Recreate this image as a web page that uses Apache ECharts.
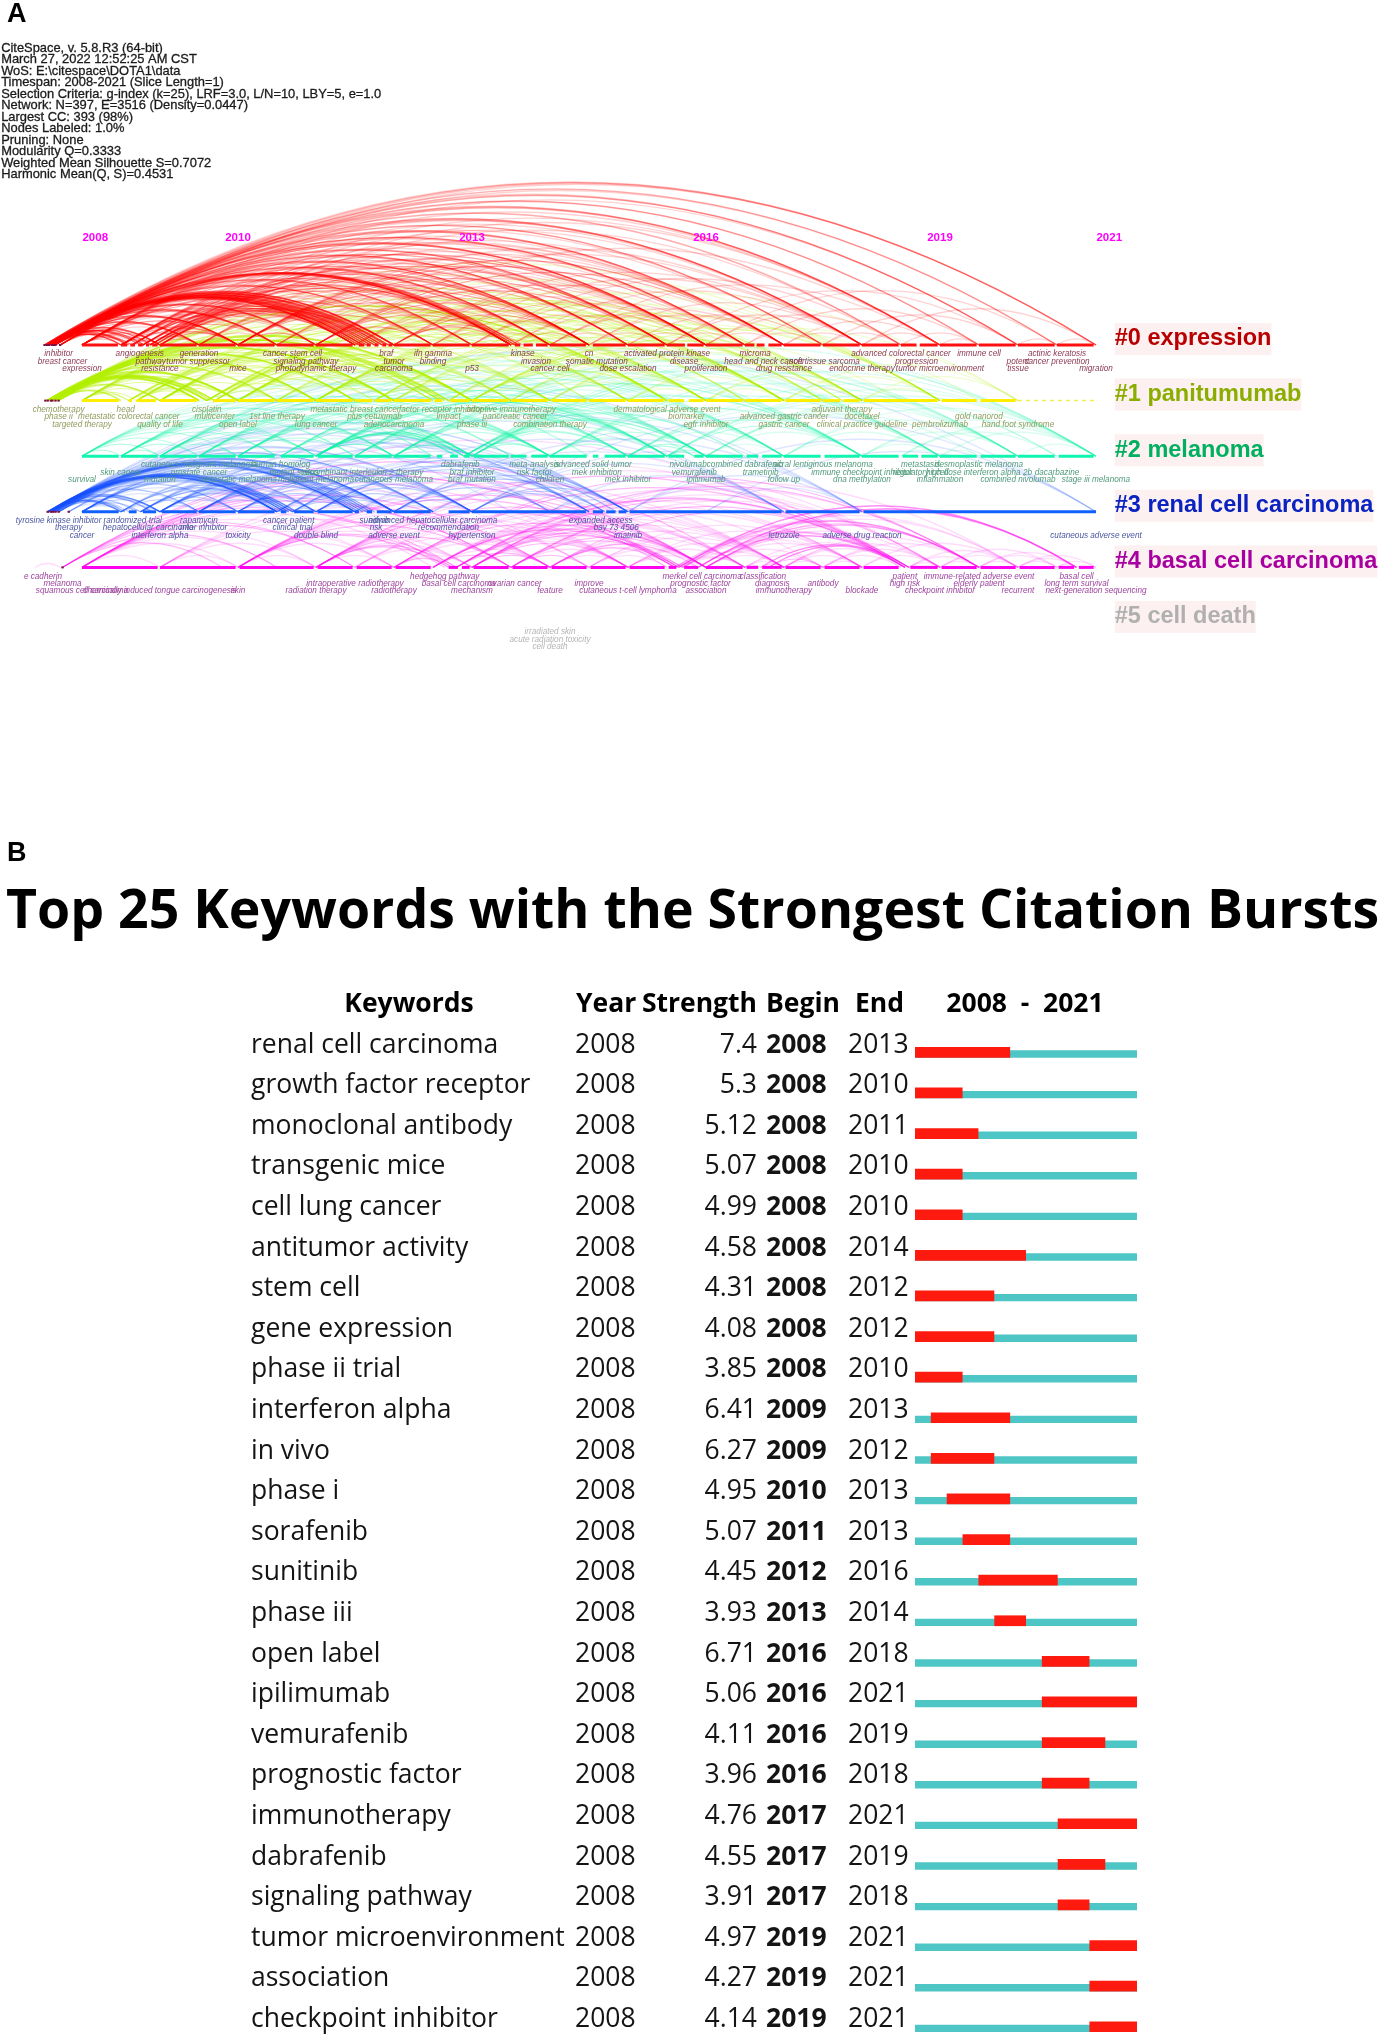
<!DOCTYPE html>
<html><head><meta charset="utf-8">
<style>html,body{margin:0;padding:0;background:#fff}#c{width:1380px;height:2034px;filter:blur(.4px)}</style>
<script src="https://cdn.jsdelivr.net/npm/echarts@6/dist/echarts.min.js"></script>
</head><body><div id="c"></div>
<script>
/* ---------- Panel A data ---------- */
const infoLines = [
 'CiteSpace, v. 5.8.R3 (64-bit)','March 27, 2022 12:52:25 AM CST','WoS: E:\\citespace\\DOTA1\\data',
 'Timespan: 2008-2021 (Slice Length=1)','Selection Criteria: g-index (k=25), LRF=3.0, L/N=10, LBY=5, e=1.0',
 'Network: N=397, E=3516 (Density=0.0447)','Largest CC: 393 (98%)','Nodes Labeled: 1.0%','Pruning: None',
 'Modularity Q=0.3333','Weighted Mean Silhouette S=0.7072','Harmonic Mean(Q, S)=0.4531'];
const yearLabels = [['2008',2008.17],['2010',2010],['2013',2013],['2016',2016],['2019',2019],['2021',2021.17]];
const clusterNames = ['#0 expression','#1 panitumumab','#2 melanoma','#3 renal cell carcinoma','#4 basal cell carcinoma','#5 cell death'];

/* keyword, year, stagger tier */
const kw0 = [['inhibitor',2007.7,0],['angiogenesis',2008.74,0],['generation',2009.5,0],['cancer stem cell',2010.7,0],['braf',2011.9,0],['ifn gamma',2012.5,0],['kinase',2013.65,0],['cn',2014.5,0],['activated protein kinase',2015.5,0],['microma',2016.63,0],['advanced colorectal cancer',2018.5,0],['immune cell',2019.5,0],['actinic keratosis',2020.5,0],
 ['breast cancer',2007.75,1],['pathway',2008.88,1],['tumor suppressor',2009.49,1],['signaling pathway',2010.87,1],['tumor',2012,1],['binding',2012.5,1],['invasion',2013.82,1],['somatic mutation',2014.6,1],['disease',2015.72,1],['head and neck cancer',2016.75,1],['soft tissue sarcoma',2017.52,1],['progression',2018.7,1],['potent',2020,1],['cancer prevention',2020.5,1],
 ['expression',2008,2],['resistance',2009,2],['mice',2010,2],['photodynamic therapy',2011,2],['carcinoma',2012,2],['p53',2013,2],['cancer cell',2014,2],['dose escalation',2015,2],['proliferation',2016,2],['drug resistance',2017,2],['endocrine therapy',2018,2],['tumor microenvironment',2019,2],['tissue',2020,2],['migration',2021,2]];
const kw1 = [['chemotherapy',2007.7,0],['head',2008.56,0],['cisplatin',2009.6,0],['metastatic breast cancer',2011.5,0],['factor receptor inhibitor',2012.6,0],['adoptive immunotherapy',2013.5,0],['dermatological adverse event',2015.5,0],['adjuvant therapy',2017.74,0],
 ['phase ii',2007.7,1],['metastatic colorectal cancer',2008.6,1],['multicenter',2009.7,1],['1st line therapy',2010.5,1],['plus cetuximab',2011.75,1],['impact',2012.7,1],['pancreatic cancer',2013.55,1],['biomarker',2015.75,1],['advanced gastric cancer',2017,1],['docetaxel',2018,1],['gold nanorod',2019.5,1],
 ['targeted therapy',2008,2],['quality of life',2009,2],['open label',2010,2],['lung cancer',2011,2],['adenocarcinoma',2012,2],['phase iii',2013,2],['combination therapy',2014,2],['egfr inhibitor',2016,2],['gastric cancer',2017,2],['clinical practice guideline',2018,2],['pembrolizumab',2019,2],['hand foot syndrome',2020,2]];
const kw2 = [['cutaneous malignant melanoma',2009.5,0],['human homolog',2010.55,0],['dabrafenib',2012.85,0],['meta-analysis',2013.8,0],['advanced solid tumor',2014.55,0],['nivolumab',2015.77,0],['combined dabrafenib',2016.5,0],['acral lentiginous melanoma',2017.5,0],['metastasis',2018.75,0],['desmoplastic melanoma',2019.5,0],
 ['skin cancer',2008.5,1],['prostate cancer',2009.5,1],['mutant status',2010.72,1],['recombinant interleukin 2 therapy',2011.6,1],['braf inhibitor',2013,1],['risk factor',2013.8,1],['mek inhibition',2014.6,1],['vemurafenib',2015.85,1],['trametinib',2016.7,1],['immune checkpoint inhibitor',2018,1],['regulatory t cell',2018.75,1],['high dose interferon alpha 2b',2019.5,1],['dacarbazine',2020.5,1],
 ['survival',2008,2],['mutation',2009,2],['metastatic melanoma',2010,2],['malignant melanoma',2011,2],['cutaneous melanoma',2012,2],['braf mutation',2013,2],['children',2014,2],['mek inhibitor',2015,2],['ipilimumab',2016,2],['follow up',2017,2],['dna methylation',2018,2],['inflammation',2019,2],['combined nivolumab',2020,2],['stage iii melanoma',2021,2]];
const kw3 = [['tyrosine kinase inhibitor',2007.7,0],['randomized trial',2008.65,0],['rapamycin',2009.5,0],['cancer patient',2010.65,0],['sunitinib',2011.75,0],['advanced hepatocellular carcinoma',2012.5,0],['expanded access',2014.65,0],
 ['therapy',2007.83,1],['hepatocellular carcinoma',2008.85,1],['mtor inhibitor',2009.56,1],['clinical trial',2010.7,1],['risk',2011.77,1],['recommendation',2012.7,1],['bay 73 4506',2014.85,1],
 ['cancer',2008,2],['interferon alpha',2009,2],['toxicity',2010,2],['double blind',2011,2],['adverse event',2012,2],['hypertension',2013,2],['imatinib',2015,2],['letrozole',2017,2],['adverse drug reaction',2018,2],['cutaneous adverse event',2021,2]];
const kw4 = [['e cadherin',2007.5,0],['hedgehog pathway',2012.65,0],['merkel cell carcinoma',2015.95,0],['classification',2016.73,0],['patient',2018.55,0],['immune-related adverse event',2019.5,0],['basal cell',2020.75,0],
 ['melanoma',2007.75,1],['intraoperative radiotherapy',2011.5,1],['basal cell carcinoma',2012.83,1],['ovarian cancer',2013.55,1],['improve',2014.5,1],['prognostic factor',2015.93,1],['diagnosis',2016.85,1],['antibody',2017.5,1],['high risk',2018.55,1],['elderly patient',2019.5,1],['long term survival',2020.75,1],
 ['squamous cell carcinoma',2008,2],['chemically induced tongue carcinogenesis',2009,2],['skin',2010,2],['radiation therapy',2011,2],['radiotherapy',2012,2],['mechanism',2013,2],['feature',2014,2],['cutaneous t-cell lymphoma',2015,2],['association',2016,2],['immunotherapy',2017,2],['blockade',2018,2],['checkpoint inhibitor',2019,2],['recurrent',2020,2],['next-generation sequencing',2021,2]];
const kw5 = [['irradiated skin',2014,0],['acute radiation toxicity',2014,1],['cell death',2014,2]];

/* timeline spans per row */
const spine0 = [[2008,2008.46],[2008.5,2008.58],[2008.62,2008.68],[2008.72,2008.78],[2008.82,2008.86],[2008.9,2008.97],[2009,2009.47],[2009.5,2009.97],[2010,2010.47],[2010.5,2010.97],[2011,2011.47],[2011.55,2011.62],[2011.65,2011.7],[2011.75,2011.8],[2011.85,2011.9],[2011.93,2011.98],[2012,2012.47],[2012.5,2012.97],[2013,2013.47],[2013.55,2013.62],[2013.66,2013.78],[2013.82,2013.97],[2014,2014.46],[2014.55,2014.97],[2015,2015.47],[2015.5,2015.73],[2015.76,2015.97],[2016,2016.47],[2016.5,2016.62],[2016.65,2016.75],[2016.8,2016.97],[2017,2017.47],[2017.5,2017.97],[2018,2018.47],[2018.5,2018.7],[2018.74,2018.97],[2019,2019.47],[2019.5,2019.97],[2020,2020.47],[2020.5,2020.97]];
const spine1 = [[2008,2008.47],[2008.6,2008.64],[2008.7,2008.95],[2009,2009.47],[2009.68,2009.97],[2010,2010.47],[2010.5,2010.97],[2011,2011.47],[2011.5,2011.72],[2011.76,2011.97],[2012,2012.47],[2012.52,2012.62],[2012.72,2012.97],[2013,2013.47],[2013.5,2013.97],[2014.02,2014.47],[2014.5,2014.97],[2015,2015.47],[2015.52,2015.72],[2015.78,2015.97],[2016,2016.47],[2016.5,2016.97],[2017.02,2017.47],[2017.5,2017.72],[2017.76,2017.97],[2018.02,2018.97],[2019.02,2019.47],[2019.52,2019.97]];
const spine2 = [[2008,2008.47],[2008.5,2008.97],[2009,2009.47],[2009.5,2009.97],[2010,2010.47],[2010.55,2010.97],[2011.02,2011.47],[2011.5,2011.97],[2012,2012.47],[2012.55,2012.62],[2012.72,2012.82],[2012.9,2012.97],[2013.02,2013.47],[2013.5,2013.7],[2013.76,2013.97],[2014,2014.47],[2014.55,2014.62],[2014.7,2014.97],[2015,2015.47],[2015.52,2015.72],[2015.85,2015.97],[2016,2016.47],[2016.52,2016.67],[2016.72,2016.97],[2017,2017.47],[2017.52,2017.97],[2018,2018.47],[2018.52,2018.72],[2018.76,2018.97],[2019,2019.47],[2019.52,2019.97],[2020,2020.47],[2020.52,2020.97]];
const spine3 = [[2008,2008.47],[2008.6,2008.7],[2008.78,2008.95],[2009.02,2009.47],[2009.5,2009.97],[2010,2010.47],[2010.55,2010.62],[2010.72,2010.97],[2011.02,2011.47],[2011.5,2011.55],[2011.65,2011.72],[2011.78,2011.97],[2012,2012.47],[2012.7,2012.97],[2013,2014.46],[2014.55,2014.68],[2014.72,2014.84],[2014.88,2014.98],[2015.02,2016.97],[2017.02,2017.97],[2018.02,2021]];
const spine4 = [[2008,2008.97],[2009,2009.97],[2010.02,2010.97],[2011.02,2011.47],[2011.52,2011.97],[2012.02,2012.47],[2012.7,2012.82],[2012.87,2012.97],[2013.02,2013.47],[2013.52,2013.97],[2014.02,2014.47],[2014.52,2014.97],[2015.02,2015.47],[2015.52,2015.62],[2015.72,2015.9],[2016,2016.47],[2016.52,2016.67],[2016.72,2016.97],[2017.02,2017.47],[2017.52,2017.97],[2018.02,2018.47],[2018.62,2018.97],[2019.02,2019.47],[2019.52,2019.97],[2020.02,2020.47],[2020.52,2020.72],[2020.78,2020.97]];
const heads = [[2007.52,2007.55,2007.58,2007.62,2007.64,2007.66,2007.72],[2007.53,2007.56,2007.6,2007.62,2007.66,2007.7],[],[2007.56,2007.6,2007.63,2007.66,2007.7,2007.83],[2007.75]];
const dashedTail = [2020,2021];

/* edges: [source year, [target years], strength] */
const redEdges = [
 [2007.55,[2008.6,2008.75,2009,2010,2011.5,2011.6,2011.7,2011.85,2012,2013.5],3],[2007.55,[2014.5,2016],2],[2007.55,[2017,2018,2019,2021],1],
 [2007.6,[2008.5,2008.8,2009.5,2010.5,2011.55,2011.65,2011.75,2011.9,2013.55],3],[2007.6,[2012.5,2013,2014,2015,2016.5],2],[2007.6,[2017.5,2018.5,2019.5,2020.5],1],
 [2007.65,[2008.58,2008.9,2010,2011,2011.5,2011.6,2011.8,2013.5,2013.6],3],[2007.65,[2012,2014.5,2015.5,2016],2],[2007.65,[2017,2018,2019,2020],1],
 [2007.72,[2008.64,2009,2009.5,2010.5,2011.5,2011.7,2011.93],2],[2007.72,[2013,2013.5,2014,2015,2016.5,2018,2020.5,2021],1],
 [2007.58,[2008.5,2008.7,2009,2009.5,2010,2010.5,2011,2011.5,2012,2012.5,2013,2013.5,2014,2014.5,2015,2015.5,2016,2016.5,2017,2017.5,2018,2018.5,2019,2019.5,2020,2020.5,2021],1],
 [2007.63,[2008.5,2009,2010,2011,2011.6,2012,2012.5,2013,2014,2014.5,2015,2015.5,2016,2016.5,2017,2017.5,2018,2019,2019.5,2020,2021],1],
 [2007.52,[2009.5,2010.5,2011.5,2012.5,2013.5,2014,2015,2016,2017,2018,2019,2020,2021],1],
 [2008,[2008.5,2008.64,2008.87,2009,2010,2011.5,2011.85,2012,2013.5,2014.5,2015.5],2],
 [2008,[2008.8,2009.5,2010.5,2011,2012.5,2013,2014,2015,2016,2016.5,2017,2017.5,2018,2019,2020],1],
 [2008.5,[2009,2009.5,2010,2011,2011.55,2011.75,2011.93,2013.5,2014.5,2016],2],
 [2008.5,[2010.5,2012,2012.5,2013,2014,2015,2015.5,2017,2018,2019],1],
 [2008.64,[2009,2010,2011.5,2011.65,2011.85,2013.55,2014.5,2015],2],[2008.64,[2017],1],
 [2008.78,[2009.5,2010.5,2011.6,2011.8,2012,2013.5,2014,2015.5],2],[2008.78,[2016.5],1],
 [2008.87,[2010,2011.5,2011.7,2011.9,2012.5,2013.6,2014.5,2016],2],[2008.87,[2017.5,2019],1],
 [2008.93,[2010,2011,2011.55,2012,2013,2014,2015,2016],1],
 [2009,[2009.5,2010,2011.5,2011.75,2011.93,2013.5,2014.5,2015.5],2],[2009,[2017,2018.5],1],
 [2009.5,[2010,2010.5,2011.85,2012,2013,2014,2014.5,2016,2017],1],
 [2010,[2011,2012.5,2013.5,2014.5,2015.5,2016.5,2017],2],
 [2010,[2013,2014,2015,2016,2018],1],
 [2010.5,[2012,2013.5,2014.5,2016,2018],1],
 [2011,[2012.5,2013.5,2014.5,2015.5,2017],2],
 [2011,[2014,2016,2019],1],
 [2011.5,[2013,2013.55,2014.5,2016.5],1],
 [2012,[2013.5,2013.65,2014.5],2],[2012,[2016,2017,2018],1],
 [2012.5,[2013.5,2014.5,2016,2018],1],
 [2013,[2014,2015.5,2016.5,2018.5],1],
 [2013.5,[2014.5,2016,2018],1],
 [2014,[2015,2016.5,2017,2019],1],
 [2014.5,[2015.5,2017,2018],1],
 [2015,[2016,2017.5],1],
 [2015.5,[2016.5,2018,2020],1],
 [2016,[2017,2018.5,2020.5],1],
 [2016.5,[2017.5,2019.5],1],
 [2017,[2018,2019],1],
 [2017.5,[2018.5,2020],1],
 [2018,[2019,2021],1],
 [2018.5,[2019.5],1],
 [2019,[2019.5],1],[2020,[2020.5],1],[2020.5,[2021],1]];
const greenEdges = [
 [2007.55,[2009.5,2009.6,2009.7,2010,2011,2011.5,2012,2012.6],3],
 [2007.6,[2009.5,2009.6,2009.65,2010,2010.5,2011.5,2012,2012.65,2013],3],
 [2007.66,[2008.5,2009,2009.5,2009.6,2009.7,2010,2011,2012,2012.7,2013,2015.5],3],
 [2007.7,[2008.6,2009,2009.5,2010,2011.5,2012.5,2013,2014,2015.5,2017],2],
 [2007.62,[2008.5,2009,2010.5,2011,2012.5,2013.5,2014.5,2015,2016,2017.5,2018,2019],1],
 [2008,[2008.6,2008.7,2009,2009.5,2010,2011,2012,2012.6,2013],2],
 [2008,[2010.5,2011.5,2013.5,2014,2015,2015.5,2016.5,2017],1],
 [2008.6,[2009,2009.6,2010,2011.5,2012,2012.7,2013,2015.5],2],
 [2008.7,[2009.5,2009.7,2010,2011,2012,2012.5,2013,2014.5,2016,2017],2],
 [2009,[2009.5,2010,2010.5,2011.75,2012.6,2013,2015.5,2017.5],2],
 [2009,[2011,2012,2013.5,2014,2015,2016,2017,2018,2019],1],
 [2009.6,[2010,2011,2012,2012.7,2013,2014,2015.5,2016,2017],2],
 [2009.7,[2010.5,2011.5,2012.5,2013.5,2015,2016.5,2017.75,2018],2],
 [2010,[2010.5,2011,2012,2013,2013.5,2015.5,2016,2017,2017.5],2],
 [2010,[2012.5,2014,2015,2016.5,2018,2019],1],
 [2010.5,[2011.75,2012,2013,2014,2015,2016,2017],1],
 [2011,[2012,2012.6,2013,2014,2015.5,2016,2017,2018],2],
 [2011,[2013.5,2015,2016.5,2017.5,2019,2020],1],
 [2011.75,[2012.7,2013.5,2015.5,2017,2017.75,2019],2],
 [2012,[2013,2014,2015,2016,2017,2018,2019],1],
 [2012.7,[2014,2015,2016,2017,2018,2019],1],
 [2013,[2014,2015.5,2016,2017,2017.75,2018,2019],2],
 [2013.5,[2015,2016,2017,2018.5,2019.5],1],
 [2014,[2015.5,2016,2017.5,2018,2020],1],
 [2015,[2016,2017,2018],1],[2016,[2017,2018,2019],1],[2017,[2018,2019,2020],1],[2018,[2019,2020],1]];
const tealEdges = [
 [2008,[2008.5,2009,2009.5,2010,2011,2012],2],[2008,[2010.5,2011.5,2012.5,2013,2014],1],
 [2008.5,[2009,2009.5,2010.5,2011,2011.5,2012,2013],2],[2008.5,[2012.5,2013.5,2014.5,2015.5,2016],1],
 [2009,[2010,2010.5,2011,2012,2012.9,2013.5,2014],2],[2009,[2013,2015,2015.5,2016,2017],1],
 [2009.5,[2010,2011,2012,2013,2014],2],[2009.5,[2012.5,2014.5,2015,2016,2017,2018],1],
 [2010,[2011.5,2012.8,2013,2014,2015.5],2],[2010,[2013.5,2015,2016,2017,2018,2019],1],
 [2010.55,[2012,2013,2014,2015],1],[2010.55,[2012.9,2015.5,2016,2017],2],
 [2011,[2012,2012.8,2012.9,2013,2014,2015,2015.5],3],[2011,[2016,2017,2018,2019],1],
 [2011.5,[2013,2014,2015.5,2016],2],[2011.5,[2017,2018,2019,2020],1],
 [2012,[2012.9,2013,2014,2015.5,2016,2018],2],[2012,[2015,2017,2019,2020,2021],1],
 [2012.9,[2014,2015,2015.85,2016,2016.5],2],[2012.9,[2017,2018,2019,2020,2021],1],
 [2013,[2014,2015,2015.5,2016,2018],2],[2013,[2016.5,2017,2019,2020,2021],1],
 [2014,[2015,2015.5,2016,2018],2],[2014,[2017,2019,2020,2021],1],
 [2015,[2015.85,2016,2018],2],[2015,[2017,2019,2020,2021],1],
 [2015.5,[2015.7,2015.85,2016,2018],2],[2015.5,[2019,2020,2020.5,2021],1],
 [2016,[2017,2018,2019.5],1],[2016,[2020,2020.5,2021],1],
 [2017,[2018,2019,2020,2021],1],[2018,[2019,2020,2021],1],[2018.5,[2019,2020.5,2021],1],[2019,[2019.5,2021],1],[2020,[2021],1]];
const blueEdges = [
 [2007.56,[2008.5,2009,2010.5,2010.6,2010.7,2011.5,2011.7],3],[2007.56,[2011.55,2012],2],
 [2007.6,[2008.55,2008.9,2010.5,2010.65,2010.75,2011.65],3],[2007.6,[2010.55,2011.5,2011.75,2012,2012.5],2],
 [2007.63,[2008.7,2009,2010.5,2010.6,2010.7,2011.6],2],[2007.63,[2011.5,2011.7,2012,2013],1],
 [2007.66,[2008.5,2009.5,2010.5,2010.65,2011.55,2011.75],2],[2007.66,[2011,2012,2012.5,2014.5],1],
 [2007.7,[2008.6,2009,2010,2010.5,2010.7,2011.5,2012],2],[2007.7,[2013,2015],1],
 [2007.83,[2008.5,2009,2010.5,2011,2011.5,2012],1],
 [2007.58,[2009.5,2010,2011,2012.5,2013,2013.5,2014,2014.5,2015,2017,2018,2021],1],
 [2008,[2008.5,2008.75,2009,2010.5,2010.6,2010.75,2011.6,2012],2],
 [2008,[2009.5,2010,2011,2012.5,2013,2014.5],1],
 [2008.5,[2008.75,2009,2009.5,2010.5,2010.7],2],[2008.5,[2011.5,2011.7,2012],1],
 [2008.75,[2009,2010,2010.55,2010.65,2011.55,2012],2],[2008.75,[2011,2012.5,2013,2014.5],1],
 [2009,[2009.5,2010,2010.5,2010.6,2010.75,2011.5,2011.65,2012,2012.5],2],[2009,[2011,2013,2014.7,2015],1],
 [2009.5,[2010,2010.5,2011,2011.6,2012,2012.5,2013],2],[2009.5,[2014,2014.85,2015,2017],1],
 [2010,[2010.5,2011,2011.5,2012,2013],2],[2010,[2014.5,2015,2018],1],
 [2010.5,[2011,2011.5,2012,2012.5,2013],1],[2010.5,[2014,2014.7,2015],1],
 [2010.7,[2011,2011.5,2012,2013,2014.5,2015],2],
 [2011,[2011.5,2012,2012.5,2013,2014.5,2014.85],2],[2011,[2015,2017],1],
 [2011.5,[2012,2012.5,2013,2014.5],1],[2012,[2012.5,2013,2014,2014.7,2015],2],[2012,[2017,2018],1],
 [2012.5,[2013,2014,2015],1],[2013,[2014.5,2014.7,2015],2],[2013,[2017,2018,2021],1],[2014,[2014.7,2015,2017],1],[2015,[2017,2018,2021],1],[2016,[2018,2021],1]];
const pinkEdges = [
 [2007.4,[2007.72],1],
 [2007.75,[2009.8,2010.5,2011.5,2012.7,2013.5,2015.5,2016.5],2],
 [2008,[2009,2010,2010.5,2011,2012],1],[2008,[2011.5,2012.8,2013.5,2014,2015.6,2016],2],[2008,[2012.5,2014.5,2015,2018.55],1],
 [2009,[2010,2011,2012,2013,2014,2016],1],
 [2010,[2011,2012,2013,2014],1],[2010,[2012.65,2012.75,2013.5,2015.65,2016],2],[2010,[2014.5,2015,2017,2018.6],1],
 [2011,[2012,2013,2014],1],[2011,[2012.7,2012.8,2013.5,2015.6,2016,2018.55],2],[2011,[2014.5,2015,2017,2019],1],
 [2011.5,[2013,2014,2015,2016],1],
 [2012,[2013,2014,2015,2016.5,2017],1],[2012,[2012.75,2015.65,2018.6,2019.5],2],
 [2012.5,[2013.5,2015.6,2015.7,2016],2],[2012.5,[2014,2015,2016.5,2017,2018,2019],1],
 [2012.8,[2014,2015.6,2016,2018.55,2019.5],2],[2012.8,[2015,2016.5,2017.5,2018.5],1],
 [2013,[2014,2015,2015.65,2016,2018.6],2],[2013,[2016.5,2017,2018,2019,2019.5,2020],1],
 [2013.5,[2014.5,2015.7,2016,2018.55],2],[2013.5,[2015,2017,2018,2019],1],
 [2014,[2015,2015.65,2016,2016.5,2017],1],[2014,[2015.6,2015.9,2018.6],2],
 [2014.5,[2015.5,2016,2017,2018],1],[2015,[2015.7,2016,2016.5,2017,2018],1],
 [2015.6,[2015.9,2016,2016.5,2018.55,2019.5],1],
 [2015.65,[2018.6,2019.5],2],[2015.65,[2020.75],3],[2015.9,[2018.55,2019.5],2],[2015.9,[2020.75],3],[2016,[2018.6,2019.5],2],[2016,[2020.75],1],
 [2015.7,[2016.5,2017,2018,2018.55,2019.5,2020],1],[2016,[2017,2017.5,2018,2019,2020],1],
 [2016.5,[2016.7,2017,2017.5,2018.55],1],[2016.7,[2017,2018.55,2018.6],2],[2016.8,[2017.5,2018.55,2018.6],2],[2017,[2017.5,2018,2018.55,2019,2019.5],1],
 [2017.5,[2018,2018.5,2019,2019.5],1],[2018,[2019,2020],1],[2018.6,[2019,2019.5,2020],1],[2019,[2019.5,2020,2020.5],1],[2019.5,[2020,2020.5,2020.75],1],[2020,[2020.5,2020.75,2021],1],[2020.5,[2020.75,2021],1]];

/* ---------- Panel B data ---------- */
const keywords = ['renal cell carcinoma','growth factor receptor','monoclonal antibody','transgenic mice','cell lung cancer','antitumor activity','stem cell','gene expression','phase ii trial','interferon alpha','in vivo','phase i','sorafenib','sunitinib','phase iii','open label','ipilimumab','vemurafenib','prognostic factor','immunotherapy','dabrafenib','signaling pathway','tumor microenvironment','association','checkpoint inhibitor'];
const firstYear = [2008,2008,2008,2008,2008,2008,2008,2008,2008,2008,2008,2008,2008,2008,2008,2008,2008,2008,2008,2008,2008,2008,2008,2008,2008];
const strength = ['7.4','5.3','5.12','5.07','4.99','4.58','4.31','4.08','3.85','6.41','6.27','4.95','5.07','4.45','3.93','6.71','5.06','4.11','3.96','4.76','4.55','3.91','4.97','4.27','4.14'];
const begin = [2008,2008,2008,2008,2008,2008,2008,2008,2008,2009,2009,2010,2011,2012,2013,2016,2016,2016,2016,2017,2017,2017,2019,2019,2019];
const end = [2013,2010,2011,2010,2010,2014,2012,2012,2010,2013,2012,2013,2013,2016,2014,2018,2021,2019,2018,2021,2019,2018,2021,2021,2021];

/* ---------- Styling ---------- */
const rowColor = ['#ff0000','#b4f000','#14f5a6','#1a55ff','#ff14ee'];
const rowAlpha = [1,1,.85,.8,.85];
const spineColor = ['#ff1010','#ffee00','#10f5b0','#1060ff','#ff00f0'];
const labelColor = ['#8c3a52','#8f9c5c','#4f9a7a','#4a55a0','#9c429c','#b4b4b4'];
const clusterColor = ['#b80000','#8aad00','#00b060','#0a22c0','#a800a0','#b0b0b0'];
const edgeStyle = {1:[1.3,.18],2:[1.1,.36],3:[1.4,.56]};
const TABLE_FONT = '"Open Sans"';

function flatten(list){const o=[];list.forEach(g=>g[1].forEach(t=>o.push([g[0],t,g[2]])));return o;}

function edgeSeries(list,row){
  return {type:'custom',coordinateSystem:'cartesian2d',xAxisIndex:0,yAxisIndex:0,silent:true,clip:false,
    data:flatten(list),
    renderItem:(p,api)=>{
      const a=api.coord([api.value(0),row]),b=api.coord([api.value(1),row]);
      const s=edgeStyle[api.value(2)],span=Math.abs(b[0]-a[0]);
      return {type:'bezierCurve',shape:{x1:a[0],y1:a[1],x2:b[0],y2:b[1],cpx1:(a[0]+b[0])/2,cpy1:a[1]-span*.31},
        style:{stroke:rowColor[row],fill:null,lineWidth:s[0],opacity:s[1]*rowAlpha[row]}};
    }};
}
function spineSeries(list,row){
  return {type:'custom',coordinateSystem:'cartesian2d',xAxisIndex:0,yAxisIndex:0,silent:true,clip:false,data:list,
    renderItem:(p,api)=>{
      const a=api.coord([api.value(0),row]),b=api.coord([api.value(1),row]);
      return {type:'rect',shape:{x:a[0],y:a[1]-1.5,width:b[0]-a[0],height:3},style:{fill:spineColor[row]}};
    }};
}
function headSeries(list,row){
  return {type:'custom',coordinateSystem:'cartesian2d',xAxisIndex:0,yAxisIndex:0,silent:true,clip:false,data:list.map(v=>[v]),
    renderItem:(p,api)=>{
      const a=api.coord([api.value(0),row]);
      return {type:'rect',shape:{x:a[0]-1.2,y:a[1]-1,width:2.4,height:2},style:{fill:'#801040'}};
    }};
}
function kwSeries(list,row){
  return {type:'custom',coordinateSystem:'cartesian2d',xAxisIndex:0,yAxisIndex:0,silent:true,clip:false,z:6,
    data:list.map(k=>[k[1],k[2]]),
    renderItem:(p,api)=>{
      const k=list[p.dataIndex],a=api.coord([k[1],row]);
      return {type:'text',style:{text:k[0],x:a[0],y:a[1]+9+k[2]*7.35,align:'center',verticalAlign:'middle',
        fill:labelColor[row],fontFamily:'Liberation Sans',fontStyle:'italic',fontSize:8.2}};
    }};
}

const series=[];
[[pinkEdges,4],[blueEdges,3],[tealEdges,2],[greenEdges,1],[redEdges,0]].forEach(e=>series.push(edgeSeries(e[0],e[1])));
[spine0,spine1,spine2,spine3,spine4].forEach((s,i)=>series.push(spineSeries(s,i)));
heads.forEach((h,i)=>series.push(headSeries(h,i)));
series.push({type:'line',xAxisIndex:0,yAxisIndex:0,silent:true,symbol:'none',data:dashedTail.map(v=>[v,1]),
  lineStyle:{color:'#f4ee50',width:1.5,type:[4,4]}});
[kw0,kw1,kw2,kw3,kw4,kw5].forEach((k,i)=>series.push(kwSeries(k,i)));
series.push({type:'custom',xAxisIndex:0,yAxisIndex:0,silent:true,clip:false,data:yearLabels.map(y=>[y[1]]),
  renderItem:(p,api)=>{
    const a=api.coord([api.value(0),0]);
    return {type:'text',style:{text:yearLabels[p.dataIndex][0],x:a[0],y:238,align:'center',verticalAlign:'middle',
      fill:'#ff00ff',fontFamily:'Liberation Sans',fontWeight:'bold',fontSize:11.5}};
  }});
series.push({type:'custom',xAxisIndex:0,yAxisIndex:0,silent:true,clip:false,data:clusterNames.map((c,i)=>[i]),
  renderItem:(p,api)=>{
    const a=api.coord([2021.24,api.value(0)]);
    return {type:'text',style:{text:clusterNames[p.dataIndex],x:a[0],y:a[1]-6,align:'left',verticalAlign:'middle',
      fill:clusterColor[p.dataIndex],fontFamily:'Liberation Sans',fontWeight:'bold',fontSize:23.5,
      backgroundColor:'#fdf0f0',padding:[4,0,4,0]}};
  }});

/* panel B */
series.push({type:'custom',xAxisIndex:1,yAxisIndex:1,silent:true,clip:false,data:keywords.map((k,i)=>[begin[i],end[i]+1,i]),
  renderItem:(p,api)=>{
    const i=api.value(2);
    const a=api.coord([2008,i]),b=api.coord([2022,i]),r0=api.coord([api.value(0),i]),r1=api.coord([api.value(1),i]);
    return {type:'group',children:[
      {type:'rect',shape:{x:a[0],y:a[1]+5.3,width:b[0]-a[0],height:7.4},style:{fill:'#4fc6c6'}},
      {type:'rect',shape:{x:r0[0],y:a[1]+2,width:r1[0]-r0[0],height:10.7},style:{fill:'#ff1a0f'}}
    ]};
  }});
series.push({type:'custom',xAxisIndex:1,yAxisIndex:1,silent:true,clip:false,data:keywords.map((k,i)=>[i]),
  renderItem:(p,api)=>{
    const i=api.value(0),y=api.coord([2008,i])[1];
    const t=(s,x,al,w)=>({type:'text',style:{text:String(s),x:x,y:y,align:al,verticalAlign:'middle',fill:'#141414',
      fontFamily:TABLE_FONT,fontSize:26.5,fontWeight:w||'normal'}});
    return {type:'group',children:[t(firstYear[i],575,'left'),t(strength[i],757,'right'),t(begin[i],766,'left','bold'),t(end[i],848,'left')]};
  }});

const headers=[['Keywords',409,'center'],['Year',576,'left'],['Strength',757,'right'],['Begin',766,'left'],['End',855,'left'],['2008  -  2021',1025,'center']];
const graphic=[
 ...infoLines.map((s,i)=>({type:'text',left:1,top:41.5+i*11.5,style:{text:s,fill:'#1a1a1a',fontFamily:'Liberation Sans',fontSize:12.9,fontWeight:'normal',stroke:'#1a1a1a',lineWidth:.3}})),
 {type:'text',left:7,top:1,style:{text:'A',fill:'#000',fontFamily:'Liberation Sans',fontWeight:'bold',fontSize:27}},
 {type:'text',left:7,top:840,style:{text:'B',fill:'#000',fontFamily:'Liberation Sans',fontWeight:'bold',fontSize:27}},
 ...headers.map(h=>({type:'text',x:h[1],y:1004,style:{text:h[0],x:0,y:0,align:h[2],verticalAlign:'middle',fill:'#000',fontFamily:TABLE_FONT,fontWeight:'bold',fontSize:26.5}}))
];

const chart=echarts.init(document.getElementById('c'),null,{renderer:'canvas'});
chart.setOption({
  animation:false,backgroundColor:'#fff',
  title:{text:'Top 25 Keywords with the Strongest Citation Bursts',left:6,top:886,padding:0,
    textStyle:{fontFamily:TABLE_FONT,fontWeight:'bold',fontSize:53.6,color:'#000'}},
  grid:[{left:43,top:345,width:1053,height:278},{left:915,top:1045,width:222,height:974.4}],
  xAxis:[{type:'value',gridIndex:0,min:2007.5,max:2021,show:false},{type:'value',gridIndex:1,min:2008,max:2022,show:false}],
  yAxis:[{type:'value',gridIndex:0,min:0,max:5,inverse:true,show:false},
    {type:'category',gridIndex:1,data:keywords,inverse:true,boundaryGap:false,axisLine:{show:false},axisTick:{show:false},
      axisLabel:{align:'left',margin:664,fontFamily:TABLE_FONT,fontSize:26.5,color:'#141414',interval:0}}],
  graphic:graphic,
  series:series
});
</script></body></html>
